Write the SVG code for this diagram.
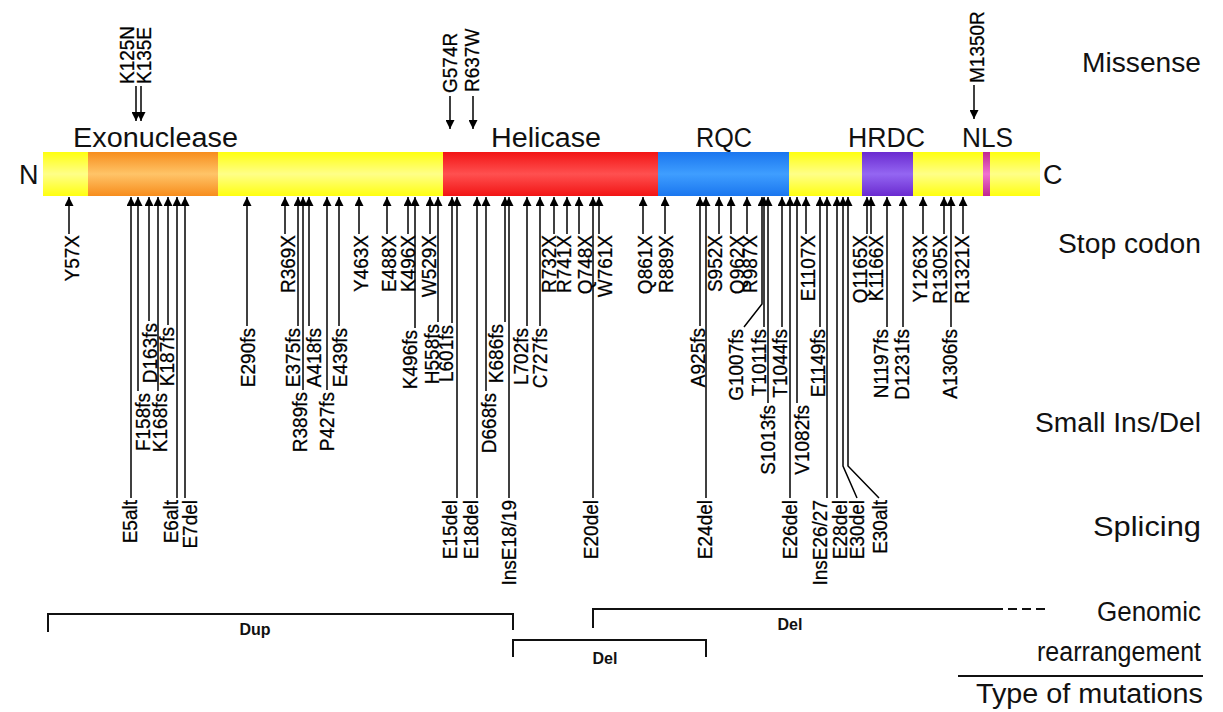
<svg xmlns="http://www.w3.org/2000/svg" width="1223" height="712" viewBox="0 0 1223 712">
<defs>
<style>
.v{font-family:"Liberation Sans",Arial,sans-serif;font-size:19px;fill:#000;stroke:#000;stroke-width:0.25;text-anchor:end;dominant-baseline:central}
.u{font-family:"Liberation Sans",Arial,sans-serif;font-size:19px;fill:#000;stroke:#000;stroke-width:0.25;text-anchor:start;dominant-baseline:central}
.dom{font-family:"Liberation Sans",Arial,sans-serif;font-size:27px;fill:#111}
.cat{font-family:"Liberation Sans",Arial,sans-serif;font-size:27px;fill:#111;text-anchor:end}
.br{font-family:"Liberation Sans",Arial,sans-serif;font-size:16px;font-weight:bold;fill:#111;text-anchor:middle}
</style>
<marker id="ah" viewBox="0 0 10 10" refX="10" refY="5" markerWidth="9" markerHeight="9" markerUnits="userSpaceOnUse" orient="auto"><path d="M0,0 L10,5 L0,10 z" fill="#000"/></marker>
<linearGradient id="gY" x1="0" y1="0" x2="0" y2="1"><stop offset="0" stop-color="#ffff10"/><stop offset="0.5" stop-color="#ffff88"/><stop offset="1" stop-color="#ffff10"/></linearGradient>
<linearGradient id="gO" x1="0" y1="0" x2="0" y2="1"><stop offset="0" stop-color="#f78d1c"/><stop offset="0.5" stop-color="#ffc468"/><stop offset="1" stop-color="#f78d1c"/></linearGradient>
<linearGradient id="gR" x1="0" y1="0" x2="0" y2="1"><stop offset="0" stop-color="#f21414"/><stop offset="0.5" stop-color="#ff5050"/><stop offset="1" stop-color="#f21414"/></linearGradient>
<linearGradient id="gB" x1="0" y1="0" x2="0" y2="1"><stop offset="0" stop-color="#1a76ef"/><stop offset="0.5" stop-color="#3f9eff"/><stop offset="1" stop-color="#1a76ef"/></linearGradient>
<linearGradient id="gP" x1="0" y1="0" x2="0" y2="1"><stop offset="0" stop-color="#6a2ad0"/><stop offset="0.5" stop-color="#9466f2"/><stop offset="1" stop-color="#6a2ad0"/></linearGradient>
<linearGradient id="gM" x1="0" y1="0" x2="0" y2="1"><stop offset="0" stop-color="#c02890"/><stop offset="0.5" stop-color="#f070d0"/><stop offset="1" stop-color="#c02890"/></linearGradient>
</defs>
<rect width="1223" height="712" fill="#fff"/>

<g id="protein">
<rect x="43" y="152" width="997" height="44" fill="url(#gY)"/>
<g id="exonuclease"><rect x="88" y="152" width="130" height="44" fill="url(#gO)"/><text class="dom" x="73" y="147" textLength="165" lengthAdjust="spacingAndGlyphs">Exonuclease</text></g>
<g id="helicase"><rect x="443" y="152" width="215" height="44" fill="url(#gR)"/><text class="dom" x="491" y="147" textLength="110" lengthAdjust="spacingAndGlyphs">Helicase</text></g>
<g id="rqc"><rect x="658" y="152" width="131" height="44" fill="url(#gB)"/><text class="dom" x="696" y="147" textLength="56" lengthAdjust="spacingAndGlyphs">RQC</text></g>
<g id="hrdc"><rect x="862" y="152" width="51" height="44" fill="url(#gP)"/><text class="dom" x="848" y="147" textLength="77" lengthAdjust="spacingAndGlyphs">HRDC</text></g>
<g id="nls"><rect x="983" y="152" width="7" height="44" fill="url(#gM)"/><text class="dom" x="962" y="147" textLength="51" lengthAdjust="spacingAndGlyphs">NLS</text></g>
<text class="dom" x="19" y="184" font-size="28">N</text>
<text class="dom" x="1043" y="184" font-size="28">C</text>
</g>

<g id="connectors" stroke="#000" stroke-width="1.5" fill="none" marker-end="url(#ah)">
<path d="M136,86 V121"/><path d="M141,86 V121"/><path d="M450,96 V129"/><path d="M473,96 V129"/><path d="M974,85 V119"/>
<path d="M69,234 V197"/><path d="M285,234 V197"/><path d="M359,234 V197"/><path d="M387,234 V197"/><path d="M408,234 V197"/><path d="M430,234 V197"/>
<path d="M554,234 V197"/><path d="M567,234 V197"/><path d="M579,234 V197"/><path d="M599,234 V197"/><path d="M643,234 V197"/><path d="M665,234 V197"/>
<path d="M719,234 V197"/><path d="M731,234 V197"/><path d="M747,234 V197"/><path d="M806,234 V197"/><path d="M867,234 V197"/><path d="M871,234 V197"/>
<path d="M923,234 V197"/><path d="M944,234 V197"/><path d="M963,234 V197"/>
<path d="M149,321 V197"/><path d="M168,325 V197"/><path d="M247,326 V197"/><path d="M298,326 V197"/><path d="M309,326 V197"/><path d="M339,326 V197"/>
<path d="M415,328 V197"/><path d="M438,322 V197"/><path d="M452,323 V197"/><path d="M505,322 V197"/><path d="M527,326 V197"/><path d="M540,326 V197"/>
<path d="M700,326 V197"/><path d="M744,327 L762,304 V197"/><path d="M764,327 V197"/><path d="M782,327 V197"/><path d="M820,327 V197"/>
<path d="M887,327 V197"/><path d="M903,327 V197"/><path d="M951,327 V197"/>
<path d="M138,391 V197"/><path d="M158,391 V197"/><path d="M303,390 V197"/><path d="M327,390 V197"/><path d="M486,391 V197"/><path d="M768,403 V197"/><path d="M797,403 V197"/>
<path d="M131,498 V197"/><path d="M177,498 V197"/><path d="M185,498 V197"/><path d="M457,498 V197"/><path d="M477,498 V197"/><path d="M509,498 V197"/>
<path d="M593,498 V197"/><path d="M706,498 V197"/><path d="M790,498 V197"/><path d="M827,498 V197"/><path d="M837,498 V197"/>
<path d="M857,498 L843,466 V197"/><path d="M879,498 L848,466 V197"/>
</g>

<g id="missense">
<g id="m-K125N"><text class="u" transform="translate(127,84) rotate(-90) scale(1,1.1)">K125N</text></g>
<g id="m-K135E"><text class="u" transform="translate(144,84) rotate(-90) scale(1,1.1)">K135E</text></g>
<g id="m-G574R"><text class="u" transform="translate(450,93) rotate(-90) scale(1,1.1)">G574R</text></g>
<g id="m-R637W"><text class="u" transform="translate(472,92) rotate(-90) scale(1,1.1)">R637W</text></g>
<g id="m-M1350R"><text class="u" transform="translate(977,83) rotate(-90) scale(1,1.1)">M1350R</text></g>
</g>

<g id="stop">
<g id="s-Y57X"><text class="v" transform="translate(72,235) rotate(-90) scale(1,1.1)">Y57X</text></g>
<g id="s-R369X"><text class="v" transform="translate(288,235) rotate(-90) scale(1,1.1)">R369X</text></g>
<g id="s-Y463X"><text class="v" transform="translate(361,235) rotate(-90) scale(1,1.1)">Y463X</text></g>
<g id="s-E488X"><text class="v" transform="translate(389,235) rotate(-90) scale(1,1.1)">E488X</text></g>
<g id="s-K496X"><text class="v" transform="translate(408,235) rotate(-90) scale(1,1.1)">K496X</text></g>
<g id="s-W529X"><text class="v" transform="translate(429,235) rotate(-90) scale(1,1.1)">W529X</text></g>
<g id="s-R732X"><text class="v" transform="translate(549,235) rotate(-90) scale(1,1.1)">R732X</text></g>
<g id="s-R741X"><text class="v" transform="translate(564,235) rotate(-90) scale(1,1.1)">R741X</text></g>
<g id="s-Q748X"><text class="v" transform="translate(585,235) rotate(-90) scale(1,1.1)">Q748X</text></g>
<g id="s-W761X"><text class="v" transform="translate(605,235) rotate(-90) scale(1,1.1)">W761X</text></g>
<g id="s-Q861X"><text class="v" transform="translate(645,235) rotate(-90) scale(1,1.1)">Q861X</text></g>
<g id="s-R889X"><text class="v" transform="translate(666,235) rotate(-90) scale(1,1.1)">R889X</text></g>
<g id="s-S952X"><text class="v" transform="translate(715,235) rotate(-90) scale(1,1.1)">S952X</text></g>
<g id="s-Q962X"><text class="v" transform="translate(737,235) rotate(-90) scale(1,1.1)">Q962X</text></g>
<g id="s-R987X"><text class="v" transform="translate(750,235) rotate(-90) scale(1,1.1)">R987X</text></g>
<g id="s-E1107X"><text class="v" transform="translate(808,235) rotate(-90) scale(1,1.1)">E1107X</text></g>
<g id="s-Q1165X"><text class="v" transform="translate(860,235) rotate(-90) scale(1,1.1)">Q1165X</text></g>
<g id="s-K1166X"><text class="v" transform="translate(876,235) rotate(-90) scale(1,1.1)">K1166X</text></g>
<g id="s-Y1263X"><text class="v" transform="translate(920,235) rotate(-90) scale(1,1.1)">Y1263X</text></g>
<g id="s-R1305X"><text class="v" transform="translate(940,235) rotate(-90) scale(1,1.1)">R1305X</text></g>
<g id="s-R1321X"><text class="v" transform="translate(962,235) rotate(-90) scale(1,1.1)">R1321X</text></g>
</g>

<g id="indel">
<g id="i-D163fs"><text class="v" transform="translate(150,323) rotate(-90) scale(1,1.1)">D163fs</text></g>
<g id="i-K187fs"><text class="v" transform="translate(167,327) rotate(-90) scale(1,1.1)">K187fs</text></g>
<g id="i-F158fs"><text class="v" transform="translate(143,393) rotate(-90) scale(1,1.1)">F158fs</text></g>
<g id="i-K168fs"><text class="v" transform="translate(160,393) rotate(-90) scale(1,1.1)">K168fs</text></g>
<g id="i-E290fs"><text class="v" transform="translate(248,328) rotate(-90) scale(1,1.1)">E290fs</text></g>
<g id="i-E375fs"><text class="v" transform="translate(293,328) rotate(-90) scale(1,1.1)">E375fs</text></g>
<g id="i-R389fs"><text class="v" transform="translate(300,392) rotate(-90) scale(1,1.1)">R389fs</text></g>
<g id="i-A418fs"><text class="v" transform="translate(314,328) rotate(-90) scale(1,1.1)">A418fs</text></g>
<g id="i-P427fs"><text class="v" transform="translate(327,392) rotate(-90) scale(1,1.1)">P427fs</text></g>
<g id="i-E439fs"><text class="v" transform="translate(340,328) rotate(-90) scale(1,1.1)">E439fs</text></g>
<g id="i-K496fs"><text class="v" transform="translate(410,330) rotate(-90) scale(1,1.1)">K496fs</text></g>
<g id="i-H558fs"><text class="v" transform="translate(432,324) rotate(-90) scale(1,1.1)">H558fs</text></g>
<g id="i-L601fs"><text class="v" transform="translate(446,325) rotate(-90) scale(1,1.1)">L601fs</text></g>
<g id="i-D668fs"><text class="v" transform="translate(489,393) rotate(-90) scale(1,1.1)">D668fs</text></g>
<g id="i-K686fs"><text class="v" transform="translate(496,324) rotate(-90) scale(1,1.1)">K686fs</text></g>
<g id="i-L702fs"><text class="v" transform="translate(521,328) rotate(-90) scale(1,1.1)">L702fs</text></g>
<g id="i-C727fs"><text class="v" transform="translate(540,328) rotate(-90) scale(1,1.1)">C727fs</text></g>
<g id="i-A925fs"><text class="v" transform="translate(698,328) rotate(-90) scale(1,1.1)">A925fs</text></g>
<g id="i-G1007fs"><text class="v" transform="translate(736,329) rotate(-90) scale(1,1.1)">G1007fs</text></g>
<g id="i-T1011fs"><text class="v" transform="translate(759,329) rotate(-90) scale(1,1.1)">T1011fs</text></g>
<g id="i-S1013fs"><text class="v" transform="translate(768,405) rotate(-90) scale(1,1.1)">S1013fs</text></g>
<g id="i-T1044fs"><text class="v" transform="translate(780,329) rotate(-90) scale(1,1.1)">T1044fs</text></g>
<g id="i-V1082fs"><text class="v" transform="translate(802,405) rotate(-90) scale(1,1.1)">V1082fs</text></g>
<g id="i-E1149fs"><text class="v" transform="translate(818,329) rotate(-90) scale(1,1.1)">E1149fs</text></g>
<g id="i-N1197fs"><text class="v" transform="translate(881,329) rotate(-90) scale(1,1.1)">N1197fs</text></g>
<g id="i-D1231fs"><text class="v" transform="translate(902,329) rotate(-90) scale(1,1.1)">D1231fs</text></g>
<g id="i-A1306fs"><text class="v" transform="translate(950,329) rotate(-90) scale(1,1.1)">A1306fs</text></g>
</g>

<g id="splicing">
<g id="p-E5alt"><text class="v" transform="translate(130,500) rotate(-90) scale(1,1.1)">E5alt</text></g>
<g id="p-E6alt"><text class="v" transform="translate(171,500) rotate(-90) scale(1,1.1)">E6alt</text></g>
<g id="p-E7del"><text class="v" transform="translate(190,500) rotate(-90) scale(1,1.1)">E7del</text></g>
<g id="p-E15del"><text class="v" transform="translate(450,500) rotate(-90) scale(1,1.1)">E15del</text></g>
<g id="p-E18del"><text class="v" transform="translate(471,500) rotate(-90) scale(1,1.1)">E18del</text></g>
<g id="p-InsE18-19"><text class="v" transform="translate(509,500) rotate(-90) scale(1,1.1)">InsE18/19</text></g>
<g id="p-E20del"><text class="v" transform="translate(591,500) rotate(-90) scale(1,1.1)">E20del</text></g>
<g id="p-E24del"><text class="v" transform="translate(705,500) rotate(-90) scale(1,1.1)">E24del</text></g>
<g id="p-E26del"><text class="v" transform="translate(790,500) rotate(-90) scale(1,1.1)">E26del</text></g>
<g id="p-InsE26-27"><text class="v" transform="translate(820,500) rotate(-90) scale(1,1.1)">InsE26/27</text></g>
<g id="p-E28del"><text class="v" transform="translate(840,500) rotate(-90) scale(1,1.1)">E28del</text></g>
<g id="p-E30del"><text class="v" transform="translate(857,500) rotate(-90) scale(1,1.1)">E30del</text></g>
<g id="p-E30alt"><text class="v" transform="translate(880,500) rotate(-90) scale(1,1.1)">E30alt</text></g>
</g>

<g id="rearrangements" stroke="#111" stroke-width="2" fill="none">
<g id="r-dup"><path d="M48,632 V614 H513 V630"/><text class="br" x="255" y="635" stroke="none">Dup</text></g>
<g id="r-del1"><path d="M513,657 V640 H706 V657"/><text class="br" x="605" y="664" stroke="none">Del</text></g>
<g id="r-del2"><path d="M593,628 V609 H1003"/><path d="M1008,609 H1050" stroke-dasharray="9,5"/><text class="br" x="790" y="630" stroke="none">Del</text></g>
</g>

<g id="categories">
<text class="cat" x="1201" y="72" textLength="119" lengthAdjust="spacingAndGlyphs">Missense</text>
<text class="cat" x="1201" y="253" textLength="143" lengthAdjust="spacingAndGlyphs">Stop codon</text>
<text class="cat" x="1201" y="432" textLength="166" lengthAdjust="spacingAndGlyphs">Small Ins/Del</text>
<text class="cat" x="1201" y="536" textLength="108" lengthAdjust="spacingAndGlyphs">Splicing</text>
<text class="cat" x="1201" y="621" textLength="104" lengthAdjust="spacingAndGlyphs">Genomic</text>
<text class="cat" x="1201" y="661" textLength="164" lengthAdjust="spacingAndGlyphs">rearrangement</text>
<line x1="958" y1="676" x2="1203" y2="676" stroke="#111" stroke-width="2"/>
<text class="cat" x="1203" y="703" textLength="227" lengthAdjust="spacingAndGlyphs">Type of mutations</text>
</g>
</svg>
